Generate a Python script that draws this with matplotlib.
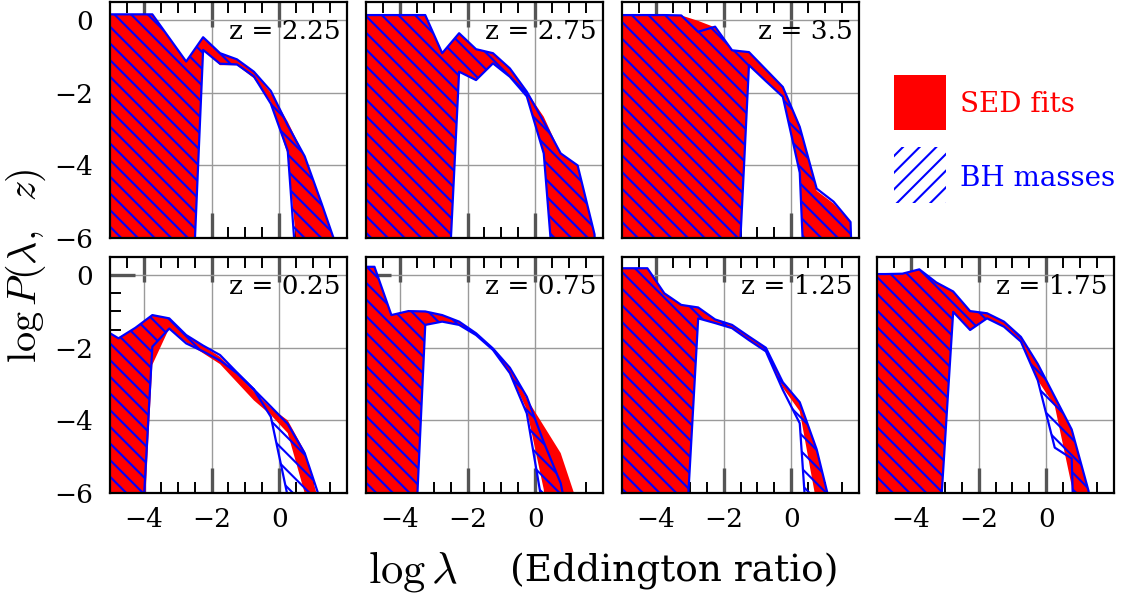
import matplotlib
matplotlib.use('Agg')
import matplotlib.pyplot as plt
from matplotlib.patches import Rectangle
from matplotlib.ticker import MultipleLocator

# ---------------- data (log P values) ----------------
LAM = [-5.25, -4.75, -4.25, -3.75, -3.25, -2.75, -2.25, -1.75,
       -1.25, -0.75, -0.25, 0.25, 0.75, 1.25, 1.75, 2.25]

# z = 2.25
sed_hi_225 = [0.16, 0.16, 0.16, 0.16, -0.49, -1.14, -0.47, -0.91, -1.08, -1.42, -2.0, -2.8, -3.75, -5.05, -6.4, -20]
sed_lo_225 = [-20, -20, -20, -20, -20, -11.6, -0.82, -1.24, -1.24, -1.6, -2.25, -3.7, -8.5, -20, -20, -20]
bh_hi_225 = [0.16, 0.16, 0.16, 0.16, -0.49, -1.14, -0.47, -0.91, -1.08, -1.42, -1.95, -2.9, -3.75, -5.05, -6.4, -20]
bh_lo_225 = [-20, -20, -20, -20, -20, -11.6, -0.82, -1.2, -1.22, -1.55, -2.3, -3.6, -10, -20, -20, -20]

# z = 2.75
sed_hi_275 = [0.14, 0.14, 0.14, 0.14, 0.14, -0.91, -0.36, -0.80, -0.91, -1.33, -1.97, -2.66, -3.67, -4.0, -5.9, -20]
sed_lo_275 = [-20, -20, -20, -20, -20, -10.9, -1.42, -1.65, -1.19, -1.56, -2.1, -3.67, -9.5, -20, -20, -20]
bh_hi_275 = [0.14, 0.14, 0.14, 0.14, 0.14, -0.91, -0.36, -0.80, -0.91, -1.33, -1.97, -2.8, -3.67, -4.0, -5.9, -20]
bh_lo_275 = [-20, -20, -20, -20, -20, -10.9, -1.42, -1.65, -1.19, -1.56, -2.1, -3.67, -9.5, -20, -20, -20]

# z = 3.5
sed_hi_35 = [0.14, 0.14, 0.14, 0.14, 0.13, -0.02, -0.2, -0.83, -0.88, -1.36, -1.84, -2.9, -4.7, -5.05, -5.56, -20]
sed_lo_35 = [-20, -20, -20, -20, -20, -20, -20, -10.7, -1.24, -1.68, -2.11, -4.2, -15, -20, -20, -20]
bh_hi_35 = [0.14, 0.14, 0.14, 0.14, 0.13, -0.32, -0.18, -0.83, -0.88, -1.36, -1.84, -2.94, -4.64, -5.0, -5.56, -20]
bh_lo_35 = [-20, -20, -20, -20, -20, -20, -20, -10.7, -1.24, -1.68, -2.11, -4.2, -15, -20, -20, -20]

# z = 0.25
sed_hi_025 = [-1.46, -1.74, -1.45, -1.10, -1.19, -1.65, -1.95, -2.25, -2.72, -3.2, -3.65, -4.0, -4.85, -6.5, -20, -20]
sed_lo_025 = [-20, -20, -11.3, -2.47, -1.46, -1.85, -2.15, -2.45, -2.95, -3.45, -3.85, -4.35, -6.0, -8, -20, -20]
bh_hi_025 = [-1.46, -1.74, -1.45, -1.10, -1.19, -1.65, -1.94, -2.2, -2.68, -3.15, -3.62, -4.1, -4.9, -6.3, -20, -20]
bh_lo_025 = [-20, -20, -10.4, -1.97, -1.47, -1.88, -2.1, -2.35, -2.7, -3.15, -3.9, -6.1, -20, -20, -20, -20]

# z = 0.75
sed_hi_075 = [0.23, 0.23, -1.1, -0.99, -1.0, -1.1, -1.28, -1.6, -2.02, -2.55, -3.4, -4.15, -4.9, -6.3, -20, -20]
sed_lo_075 = [-20, -20, -20, -11.4, -1.37, -1.28, -1.37, -1.65, -2.06, -2.7, -3.71, -5.9, -15, -20, -20, -20]
bh_hi_075 = [0.23, 0.23, -1.1, -0.99, -1.0, -1.1, -1.28, -1.6, -2.02, -2.55, -3.35, -4.6, -5.73, -8, -20, -20]
bh_lo_075 = [-20, -20, -20, -11.4, -1.37, -1.28, -1.37, -1.65, -2.06, -2.7, -3.81, -6.55, -20, -20, -20, -20]

# z = 1.25
sed_hi_125 = [0.19, 0.19, 0.19, -0.5, -0.82, -0.89, -1.22, -1.37, -1.69, -2.0, -2.95, -3.5, -4.8, -6.7, -20, -20]
sed_lo_125 = [-20, -20, -20, -20, -9.5, -1.19, -1.32, -1.46, -1.79, -2.1, -3.1, -3.75, -6.3, -20, -20, -20]
bh_hi_125 = [0.19, 0.19, 0.19, -0.5, -0.82, -0.89, -1.22, -1.37, -1.69, -2.0, -2.95, -3.5, -4.8, -6.7, -20, -20]
bh_lo_125 = [-20, -20, -20, -20, -9.5, -1.19, -1.32, -1.46, -1.79, -2.1, -3.16, -4.08, -10.9, -20, -20, -20]

# z = 1.75
sed_hi_175 = [0.03, 0.03, 0.04, 0.16, -0.2, -0.45, -0.99, -1.05, -1.28, -1.7, -2.45, -3.35, -4.25, -5.95, -20, -20]
sed_lo_175 = [-20, -20, -20, -20, -8.4, -1.01, -1.51, -1.19, -1.42, -1.83, -2.9, -3.6, -5.8, -20, -20, -20]
bh_hi_175 = [0.03, 0.03, 0.04, 0.16, -0.2, -0.45, -0.99, -1.05, -1.28, -1.7, -2.45, -3.35, -4.25, -5.95, -20, -20]
bh_lo_175 = [-20, -20, -20, -20, -8.4, -1.01, -1.51, -1.19, -1.42, -1.83, -2.9, -4.75, -5.05, -20, -20, -20]

PANEL_LABELS = ['2.25', '2.75', '3.5', '0.25', '0.75', '1.25', '1.75']
X_TICK_LABELS = ['\u22124', '\u22122', '0']
Y_TICK_LABELS = ['\u22126', '\u22124', '\u22122', '0']
LEGEND_LABELS = ['SED fits', 'BH masses']

# ---------------- style ----------------
plt.rcParams['font.family'] = ['DejaVu Serif']
plt.rcParams['mathtext.fontset'] = 'cm'
plt.rcParams['hatch.linewidth'] = 1.5
plt.rcParams['hatch.color'] = 'blue'

RED = '#ff0000'
BLUE = '#0000ff'

FW, FH = 1121, 596
fig = plt.figure(figsize=(FW / 100, FH / 100), dpi=100)

W = 237 / FW
H = 236 / FH
lefts = [110, 366, 622, 877]
bottom_top = 1 - 238 / FH
bottom_bot = 1 - 493 / FH

panels = [
    (0, 0, PANEL_LABELS[0], sed_lo_225, sed_hi_225, bh_lo_225, bh_hi_225),
    (0, 1, PANEL_LABELS[1], sed_lo_275, sed_hi_275, bh_lo_275, bh_hi_275),
    (0, 2, PANEL_LABELS[2], sed_lo_35, sed_hi_35, bh_lo_35, bh_hi_35),
    (1, 0, PANEL_LABELS[3], sed_lo_025, sed_hi_025, bh_lo_025, bh_hi_025),
    (1, 1, PANEL_LABELS[4], sed_lo_075, sed_hi_075, bh_lo_075, bh_hi_075),
    (1, 2, PANEL_LABELS[5], sed_lo_125, sed_hi_125, bh_lo_125, bh_hi_125),
    (1, 3, PANEL_LABELS[6], sed_lo_175, sed_hi_175, bh_lo_175, bh_hi_175),
]

for row, col, lab, slo, shi, blo, bhi in panels:
    b = bottom_top if row == 0 else bottom_bot
    ax = fig.add_axes([lefts[col] / FW, b, W, H])
    ax.set_xlim(-5, 2)
    ax.set_ylim(-6, 0.5)
    ax.set_axisbelow(True)
    ax.grid(True, which='major', color='#9a9a9a', lw=1.0)
    ax.fill_between(LAM, slo, shi, facecolor=RED, edgecolor='none', lw=0, zorder=1)
    ax.fill_between(LAM, blo, bhi, facecolor='none', edgecolor=BLUE,
                    hatch='\\\\', lw=1.6, zorder=2)

    ax.xaxis.set_major_locator(MultipleLocator(2))
    ax.xaxis.set_minor_locator(MultipleLocator(0.5))
    ax.yaxis.set_major_locator(MultipleLocator(2))
    ax.yaxis.set_minor_locator(MultipleLocator(0.5))
    ax.tick_params(which='both', direction='in', top=True, bottom=True,
                   left=True, right=False)
    ax.tick_params(which='major', length=18, width=2.4, color='#555555')
    ax.tick_params(which='minor', length=8, width=1.4, color='black')
    ax.tick_params(axis='x', which='major', pad=10, labelsize=19)
    ax.tick_params(axis='y', which='major', pad=12, labelsize=19)

    ax.set_xticks([-4, -2, 0])
    if row == 1:
        ax.set_xticklabels(X_TICK_LABELS)
    else:
        ax.set_xticklabels([])
    ax.set_yticks([-6, -4, -2, 0])
    if col == 0:
        ax.set_yticklabels(Y_TICK_LABELS)
    else:
        ax.set_yticklabels([])
    # the -6 tick sits on the bottom spine: hide its mark, keep its label
    ax.yaxis.get_major_ticks()[0].tick1line.set_visible(False)

    for sp in ax.spines.values():
        sp.set_linewidth(1.6)
        sp.set_color('black')
        sp.set_zorder(5)

    ax.text(0.972, 0.875, 'z = ' + lab, transform=ax.transAxes, ha='right',
            va='center', fontsize=19, zorder=6)

# legend (figure coordinates)
fig.add_artist(Rectangle((894 / FW, 1 - 130 / FH), 52 / FW, 55 / FH,
                         transform=fig.transFigure, facecolor=RED,
                         edgecolor='none', lw=0))
fig.add_artist(Rectangle((894 / FW, 1 - 203 / FH), 52 / FW, 56 / FH,
                         transform=fig.transFigure, facecolor='none',
                         edgecolor=BLUE, hatch='//', lw=0))
fig.text(960 / FW, 1 - 104 / FH, LEGEND_LABELS[0], color=RED, fontsize=20,
         ha='left', va='center')
fig.text(960 / FW, 1 - 178 / FH, LEGEND_LABELS[1], color=BLUE, fontsize=20,
         ha='left', va='center')

# axis labels
fig.text(368 / FW, 1 - 572 / FH, r'$\log\lambda$', ha='left', va='center',
         fontsize=32)
fig.text(838 / FW, 1 - 572 / FH, '(Eddington ratio)', ha='right',
         va='center', fontsize=27)
fig.text(26 / FW, 1 - 266 / FH, r'$\log P(\lambda,\;\ z)$', rotation=90,
         ha='center', va='center', fontsize=29)

fig.savefig('out.png', dpi=100)
